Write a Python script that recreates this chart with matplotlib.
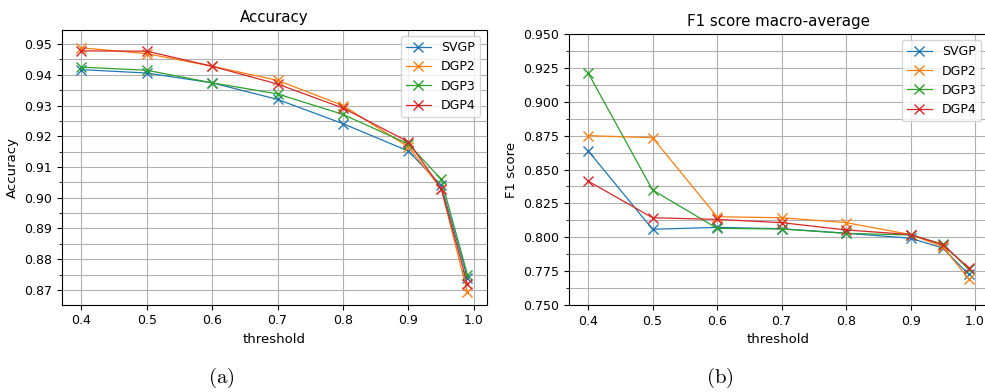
import numpy as np
import matplotlib
matplotlib.use("Agg")
import matplotlib.pyplot as plt
from matplotlib.ticker import MultipleLocator

# thresholds used for both panels
thresholds = [0.4, 0.5, 0.6, 0.7, 0.8, 0.9, 0.95, 0.99]
models = ["SVGP", "DGP2", "DGP3", "DGP4"]

# accuracy per model
acc_svgp = [0.9417, 0.9406, 0.9374, 0.9320, 0.9241, 0.9152, 0.9040, 0.8740]
acc_dgp2 = [0.9488, 0.9469, 0.9428, 0.9382, 0.9300, 0.9165, 0.9030, 0.8693]
acc_dgp3 = [0.9425, 0.9415, 0.9374, 0.9338, 0.9271, 0.9175, 0.9060, 0.8750]
acc_dgp4 = [0.9478, 0.9477, 0.9428, 0.9370, 0.9292, 0.9182, 0.9030, 0.8720]

# F1 macro-average per model
f1_svgp = [0.8639, 0.8059, 0.8073, 0.8063, 0.8030, 0.7993, 0.7920, 0.7727]
f1_dgp2 = [0.8750, 0.8735, 0.8152, 0.8144, 0.8108, 0.8020, 0.7930, 0.7694]
f1_dgp3 = [0.9214, 0.8349, 0.8066, 0.8061, 0.8029, 0.8017, 0.7950, 0.7764]
f1_dgp4 = [0.8415, 0.8144, 0.8132, 0.8108, 0.8054, 0.8020, 0.7945, 0.7775]

acc = [acc_svgp, acc_dgp2, acc_dgp3, acc_dgp4]
f1 = [f1_svgp, f1_dgp2, f1_dgp3, f1_dgp4]

fig = plt.figure(figsize=(9.85, 3.92), dpi=100)
ax1 = fig.add_axes([0.0629, 0.2227, 0.4312, 0.7008])
ax2 = fig.add_axes([0.5777, 0.2219, 0.4250, 0.6913])

for ax, data in [(ax1, acc), (ax2, f1)]:
    for name, vals in zip(models, data):
        ax.plot(thresholds, vals, marker="x", markersize=6.5, linewidth=0.9, label=name)
    ax.set_xticks([0.4, 0.5, 0.6, 0.7, 0.8, 0.9, 1.0])
    ax.grid(True, which="both", color="#b0b0b0", linewidth=0.8)
    ax.tick_params(labelsize=9)
    ax.set_xlabel("threshold", fontsize=9.5)
    ax.legend(loc="upper right", fontsize=9)

ax1.set_ylim(0.8652, 0.9546)
ax1.yaxis.set_major_locator(MultipleLocator(0.01))
ax1.yaxis.set_minor_locator(MultipleLocator(0.005))
ax1.set_title("Accuracy", fontsize=10.8)
ax1.set_ylabel("Accuracy", fontsize=9.5)

ax2.set_ylim(0.75, 0.95)
ax2.yaxis.set_major_locator(MultipleLocator(0.025))
ax2.yaxis.set_minor_locator(MultipleLocator(0.0125))
ax2.set_title("F1 score macro-average", fontsize=10.8)
ax2.set_ylabel("F1 score", fontsize=9.5)

plt.rcParams["mathtext.fontset"] = "cm"
fig.text(0.225, 0.036, r"$\mathrm{(a)}$", fontsize=15, ha="center", va="center")
fig.text(0.731, 0.036, r"$\mathrm{(b)}$", fontsize=15, ha="center", va="center")

fig.savefig("out.png", dpi=100)
